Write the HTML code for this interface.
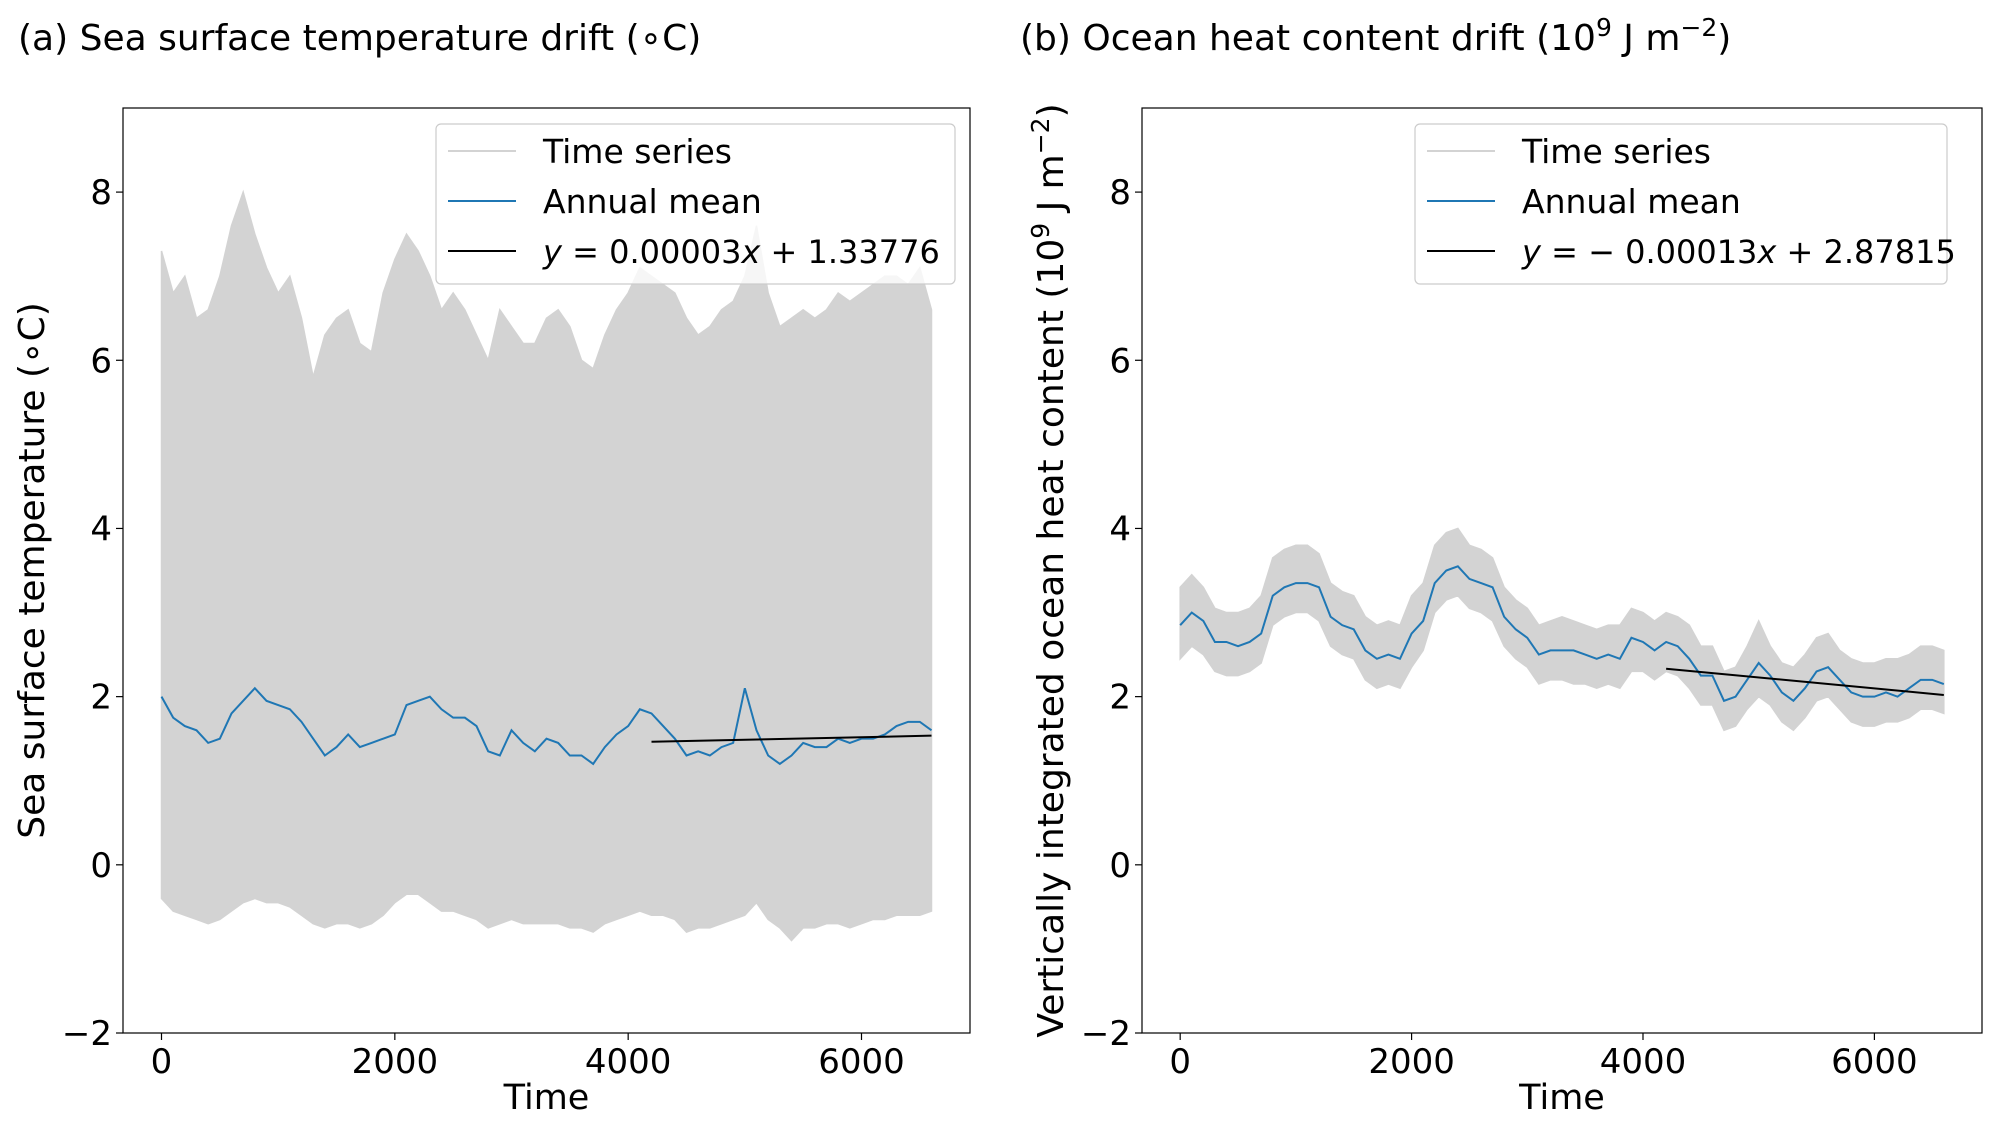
<!DOCTYPE html>
<html><head><meta charset="utf-8"><style>
html,body{margin:0;padding:0;background:#fff;}
svg{display:block;font-family:"DejaVu Sans","Liberation Sans",sans-serif;}
</style></head><body>
<svg id="chart" width="2003" height="1126" viewBox="0 0 2003 1126" xmlns="http://www.w3.org/2000/svg">
<text x="18" y="50" font-size="36">(a) Sea surface temperature drift (∘C)</text>
<text x="1020" y="50" font-size="36">(b) Ocean heat content drift (10<tspan dy="-14" font-size="25">9</tspan><tspan dy="14"> J m</tspan><tspan dy="-14" font-size="25">−2</tspan><tspan dy="14">)</tspan></text>
<g id="pa"></g>
<g id="pb"></g>
</svg>
<script>
const years = [0,100,200,300,400,500,600,700,800,900,1000,1100,1200,1300,1400,1500,1600,1700,1800,1900,2000,2100,2200,2300,2400,2500,2600,2700,2800,2900,3000,3100,3200,3300,3400,3500,3600,3700,3800,3900,4000,4100,4200,4300,4400,4500,4600,4700,4800,4900,5000,5100,5200,5300,5400,5500,5600,5700,5800,5900,6000,6100,6200,6300,6400,6500,6600];
const sstMean = [2.0,1.75,1.65,1.6,1.45,1.5,1.8,1.95,2.1,1.95,1.9,1.85,1.7,1.5,1.3,1.4,1.55,1.4,1.45,1.5,1.55,1.9,1.95,2.0,1.85,1.75,1.75,1.65,1.35,1.3,1.6,1.45,1.35,1.5,1.45,1.3,1.3,1.2,1.4,1.55,1.65,1.85,1.8,1.65,1.5,1.3,1.35,1.3,1.4,1.45,2.1,1.6,1.3,1.2,1.3,1.45,1.4,1.4,1.5,1.45,1.5,1.5,1.55,1.65,1.7,1.7,1.6];
const sstUpper = [7.3,6.8,7.0,6.5,6.6,7.0,7.6,8.0,7.5,7.1,6.8,7.0,6.5,5.8,6.3,6.5,6.6,6.2,6.1,6.8,7.2,7.5,7.3,7.0,6.6,6.8,6.6,6.3,6.0,6.6,6.4,6.2,6.2,6.5,6.6,6.4,6.0,5.9,6.3,6.6,6.8,7.1,7.0,6.9,6.8,6.5,6.3,6.4,6.6,6.7,7.0,7.6,6.8,6.4,6.5,6.6,6.5,6.6,6.8,6.7,6.8,6.9,7.0,7.0,6.9,7.1,6.6];
const sstLower = [-0.4,-0.55,-0.6,-0.65,-0.7,-0.65,-0.55,-0.45,-0.4,-0.45,-0.45,-0.5,-0.6,-0.7,-0.75,-0.7,-0.7,-0.75,-0.7,-0.6,-0.45,-0.35,-0.35,-0.45,-0.55,-0.55,-0.6,-0.65,-0.75,-0.7,-0.65,-0.7,-0.7,-0.7,-0.7,-0.75,-0.75,-0.8,-0.7,-0.65,-0.6,-0.55,-0.6,-0.6,-0.65,-0.8,-0.75,-0.75,-0.7,-0.65,-0.6,-0.45,-0.65,-0.75,-0.9,-0.75,-0.75,-0.7,-0.7,-0.75,-0.7,-0.65,-0.65,-0.6,-0.6,-0.6,-0.55];
const ohcMean = [2.85,3.0,2.9,2.65,2.65,2.6,2.65,2.75,3.2,3.3,3.35,3.35,3.3,2.95,2.85,2.8,2.55,2.45,2.5,2.45,2.75,2.9,3.35,3.5,3.55,3.4,3.35,3.3,2.95,2.8,2.7,2.5,2.55,2.55,2.55,2.5,2.45,2.5,2.45,2.7,2.65,2.55,2.65,2.6,2.45,2.25,2.25,1.95,2.0,2.2,2.4,2.25,2.05,1.95,2.1,2.3,2.35,2.2,2.05,2.0,2.0,2.05,2.0,2.1,2.2,2.2,2.15];
const ohcUpper = [3.3,3.45,3.3,3.05,3.0,3.0,3.05,3.2,3.65,3.75,3.8,3.8,3.7,3.35,3.25,3.2,2.95,2.85,2.9,2.85,3.2,3.35,3.8,3.95,4.0,3.8,3.75,3.65,3.3,3.15,3.05,2.85,2.9,2.95,2.9,2.85,2.8,2.85,2.85,3.05,3.0,2.9,3.0,2.95,2.85,2.6,2.6,2.3,2.35,2.6,2.9,2.6,2.4,2.35,2.5,2.7,2.75,2.55,2.45,2.4,2.4,2.45,2.45,2.5,2.6,2.6,2.55];
const ohcLower = [2.45,2.6,2.5,2.3,2.25,2.25,2.3,2.4,2.85,2.95,3.0,3.0,2.9,2.6,2.5,2.45,2.2,2.1,2.15,2.1,2.35,2.55,3.0,3.15,3.2,3.05,3.0,2.9,2.6,2.45,2.35,2.15,2.2,2.2,2.15,2.15,2.1,2.15,2.1,2.3,2.3,2.2,2.3,2.25,2.1,1.9,1.9,1.6,1.65,1.85,2.0,1.9,1.7,1.6,1.75,1.95,2.0,1.85,1.7,1.65,1.65,1.7,1.7,1.75,1.85,1.85,1.8];
const xTicks = [0,2000,4000,6000];
const yTicks = [-2,0,2,4,6,8];
const trendX = [4200,6600];
const sstTrend = [0.00003,1.33776];
const ohcTrend = [-0.00013,2.87815];

const NS="http://www.w3.org/2000/svg";
function mk(parent,tag,attrs){const e=document.createElementNS(NS,tag);for(const k in attrs)e.setAttribute(k,attrs[k]);parent.appendChild(e);return e;}

function panel(g,L,R,T,B,upper,lower,mean,trend,ylabel,legX,legW,legLabel){
  const xmin=-330,xmax=6930,ymin=-2,ymax=9;
  const sx=v=>L+(v-xmin)/(xmax-xmin)*(R-L);
  const sy=v=>B-(v-ymin)/(ymax-ymin)*(B-T);
  let pts=years.map((x,i)=>sx(x)+","+sy(upper[i]));
  pts=pts.concat(years.slice().reverse().map((x,j)=>sx(x)+","+sy(lower[years.length-1-j])));
  const band=mk(g,"polygon",{points:pts.join(" "),fill:"#d3d3d3",stroke:"#d3d3d3","stroke-width":"1.5"});
  
  
  const ml=mk(g,"polyline",{points:years.map((x,i)=>sx(x)+","+sy(mean[i])).join(" "),fill:"none",stroke:"#1f77b4","stroke-width":"2"});
  
  
  const tl=mk(g,"line",{x1:sx(trendX[0]),y1:sy(trend[0]*trendX[0]+trend[1]),x2:sx(trendX[1]),y2:sy(trend[0]*trendX[1]+trend[1]),stroke:"#000","stroke-width":"2"});
  
  
  const fr=mk(g,"rect",{x:L,y:T,width:R-L,height:B-T,fill:"none",stroke:"#000","stroke-width":"1.2"});
  
  
  xTicks.forEach(v=>{
    const t=mk(g,"line",{x1:sx(v),x2:sx(v),y1:B,y2:B+7,stroke:"#000","stroke-width":"1.2"});
    
    
    const lb=mk(g,"text",{x:sx(v),y:B+40,"font-size":"34","text-anchor":"middle"});lb.textContent=v;
    
    
  });
  yTicks.forEach(v=>{
    const t=mk(g,"line",{x1:L-7,x2:L,y1:sy(v),y2:sy(v),stroke:"#000","stroke-width":"1.2"});
    
    
    const lb=mk(g,"text",{x:L-11,y:sy(v)+12,"font-size":"34","text-anchor":"end"});lb.textContent=v<0?"−"+(-v):v;
    
    
  });
  const xl=mk(g,"text",{x:(L+R)/2,y:B+76,"font-size":"35","text-anchor":"middle"});xl.textContent="Time";
  
  
  const yl=mk(g,"g",{transform:"translate("+ylabel.x+","+(T+B)/2+") rotate(-90)"});
  yl.innerHTML=ylabel.html;
  
  
  const lg=mk(g,"g",{});
  
  
  mk(lg,"rect",{x:legX,y:124,width:legW,height:160,rx:5,fill:"#fff","fill-opacity":"0.8",stroke:"#ccc","stroke-width":"1.2"});
  const items=[["#d3d3d3","Time series",33],["#1f77b4","Annual mean",33],["#000",legLabel,32]];
  items.forEach((it,i)=>{
    const y=151+i*50;
    const e=mk(lg,"g",{});
    
    
    mk(e,"line",{x1:legX+12,x2:legX+80,y1:y,y2:y,stroke:it[0],"stroke-width":"2"});
    const tx=mk(e,"text",{x:legX+107,y:y+12,"font-size":it[2]});tx.innerHTML=it[1];
  });
}
panel(document.getElementById("pa"),123,970,108,1033,sstUpper,sstLower,sstMean,sstTrend,
 {x:44,html:'<text x="0" y="0" font-size="36" text-anchor="middle">Sea surface temperature (∘C)</text>'},
 436,519,'<tspan font-style="italic">y</tspan> = 0.00003<tspan font-style="italic">x</tspan> + 1.33776');
panel(document.getElementById("pb"),1142,1982,108,1033,ohcUpper,ohcLower,ohcMean,ohcTrend,
 {x:1063,html:'<text x="0" y="0" font-size="36" text-anchor="middle">Vertically integrated ocean heat content (10<tspan dy="-14" font-size="25">9</tspan><tspan dy="14"> J m</tspan><tspan dy="-14" font-size="25">−2</tspan><tspan dy="14">)</tspan></text>'},
 1415,532,'<tspan font-style="italic">y</tspan> = − 0.00013<tspan font-style="italic">x</tspan> + 2.87815');
</script>
</body></html>
